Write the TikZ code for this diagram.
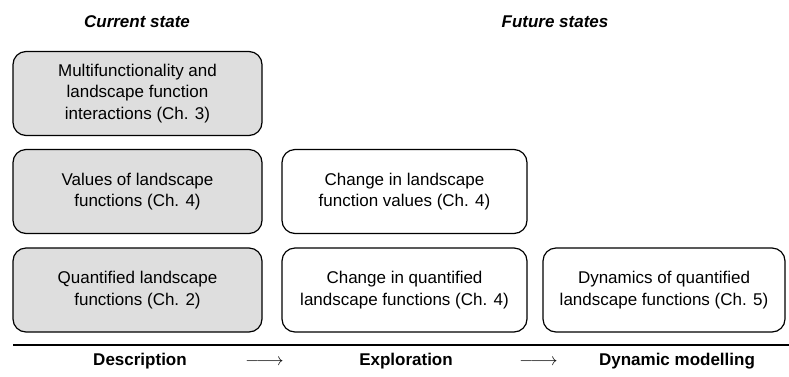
\documentclass[tikz,border=0pt]{standalone}
\usepackage{fontspec}
\setmainfont{Liberation Sans}
\begin{document}
\begin{tikzpicture}[x=1pt,y=-1pt,
  boxtext/.style={font=\fontsize{17}{21.5}\selectfont, align=center, text=black},
  card/.style={boxtext, draw=black, line width=1.2pt, rounded corners=13pt,
               inner sep=0pt, minimum height=84pt},
  graycard/.style={card, fill=black!13},
  whitecard/.style={card, fill=white},
  heading/.style={font=\fontsize{17}{20}\selectfont\bfseries\itshape, anchor=base},
  stage/.style={font=\fontsize{17}{20}\selectfont\bfseries, anchor=base},
  flow/.style={font=\fontsize{17}{20}\selectfont, anchor=base}
]
\useasboundingbox (0,0) rectangle (789,376);

% column headings
\node[heading] (cur) at (137,27) {Current state};
\node[heading] (fut) at (555,27) {Future states};

% current-state column
\node[graycard, minimum width=249pt] (multi) at (137.5,93.5)
  {Multifunctionality and\\landscape function\\interactions (Ch. 3)};
\node[graycard, minimum width=249pt] (vals) at (137.5,191.5)
  {Values of landscape\\functions (Ch. 4)};
\node[graycard, minimum width=249pt] (quant) at (137.5,290)
  {Quantified landscape\\functions (Ch. 2)};

% exploration column
\node[whitecard, minimum width=245pt] (chvals) at (404.5,191.5)
  {Change in landscape\\function values (Ch. 4)};
\node[whitecard, minimum width=245pt] (chquant) at (404.5,290)
  {Change in quantified\\landscape functions (Ch. 4)};

% dynamic modelling column
\node[whitecard, minimum width=242pt] (dyn) at (664,290)
  {Dynamics of quantified\\landscape functions (Ch. 5)};

% separator rule
\coordinate (ruleL) at (13,345);
\coordinate (ruleR) at (789,345);
\draw[line width=1.4pt] (ruleL) -- (ruleR);

% stage labels
\node[stage] (desc) at (140,365) {Description};
\node[flow] (arr1) at (264.5,365) {$\relbar\joinrel\relbar\joinrel\rightarrow$};
\node[stage] (expl) at (406,365) {Exploration};
\node[flow] (arr2) at (538.5,365) {$\relbar\joinrel\relbar\joinrel\rightarrow$};
\node[stage] (dmod) at (677,365) {Dynamic modelling};
\end{tikzpicture}
\end{document}
